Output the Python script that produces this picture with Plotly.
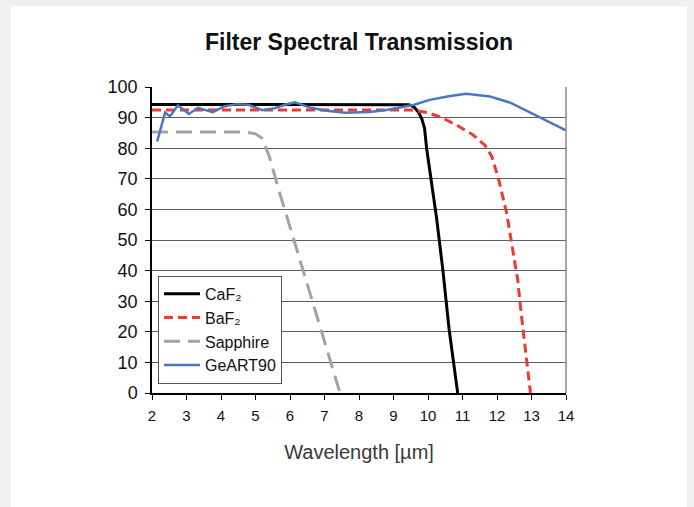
import plotly.graph_objects as go

# ---- data (wavelength in µm, transmission in %) ----
caf2_wl = [2.0, 9.0, 9.45, 9.6, 9.72, 9.82, 9.9, 9.96, 10.1, 10.25, 10.43, 10.61, 10.86]
caf2_t = [94.3, 94.3, 94.2, 93.4, 91.8, 89.6, 86.5, 80.0, 69.0, 57.0, 40.3, 21.0, 0.0]

baf2_wl = [2.0, 9.5, 10.0, 10.4, 10.9, 11.3, 11.65, 11.85, 12.05, 12.28, 12.44, 12.6, 12.7, 12.81, 12.97]
baf2_t = [92.5, 92.5, 91.6, 90.0, 87.1, 84.4, 81.0, 77.3, 69.7, 58.8, 47.9, 37.0, 26.1, 15.2, 0.0]

sapphire_wl = [2.0, 4.7, 5.0, 5.2, 5.4, 5.67, 6.2, 7.45]
sapphire_t = [85.3, 85.3, 84.7, 83.2, 77.3, 66.5, 46.8, 0.0]

geart_wl = [2.15, 2.38, 2.52, 2.75, 3.07, 3.33, 3.76, 4.1, 4.45, 4.8, 5.19, 5.57, 5.85, 6.14, 6.6, 7.0,
            7.6, 8.3, 8.8, 9.3, 9.6, 10.05, 10.6, 11.1, 11.8, 12.4, 13.2, 14.0]
geart_t = [82.2, 91.7, 90.4, 94.0, 91.2, 93.2, 91.8, 93.7, 94.4, 94.2, 92.4, 93.1, 94.2, 95.0, 93.2, 92.3,
           91.6, 91.8, 92.5, 93.7, 94.2, 95.8, 97.0, 97.8, 96.9, 94.8, 90.4, 85.8]

series_names = ["CaF₂", "BaF₂", "Sapphire", "GeART90"]

x_ticks = list(range(2, 15))
y_ticks = list(range(0, 101, 10))

FONT = "Liberation Sans, Arial, DejaVu Sans, sans-serif"

fig = go.Figure()
fig.add_trace(go.Scatter(x=caf2_wl, y=caf2_t, mode="lines", name=series_names[0],
                         line=dict(color="#000000", width=3)))
fig.add_trace(go.Scatter(x=baf2_wl, y=baf2_t, mode="lines", name=series_names[1],
                         line=dict(color="#ee3a30", width=3, dash="9px,5px")))
fig.add_trace(go.Scatter(x=sapphire_wl, y=sapphire_t, mode="lines", name=series_names[2],
                         line=dict(color="#a3a3a3", width=3, dash="16px,8px")))
fig.add_trace(go.Scatter(x=geart_wl, y=geart_t, mode="lines", name=series_names[3],
                         line=dict(color="#4a77c2", width=2.5)))

# white card on grey page
fig.add_shape(type="rect", xref="paper", yref="paper",
              x0=(11 - 152) / 414, x1=(687 - 152) / 414,
              y0=-0.5, y1=(393 - 6) / 306,
              fillcolor="white", line=dict(width=0), layer="below")
# right border of plot area
fig.add_shape(type="line", xref="paper", yref="paper", x0=1, x1=1, y0=0, y1=1,
              line=dict(color="#8a8a8a", width=1.5))

fig.update_layout(
    width=694, height=507,
    margin=dict(l=152, r=128, t=87, b=114),
    paper_bgcolor="#f0f0f0",
    plot_bgcolor="rgba(0,0,0,0)",
    font=dict(family=FONT, color="#111"),
    title=dict(text="<b>Filter Spectral Transmission</b>", x=(152 + 566) / 2 / 694, xanchor="center",
               y=1 - 42 / 507, yanchor="middle", yref="container",
               font=dict(size=23, color="#111", family=FONT)),
    showlegend=True,
    legend=dict(x=0.0145, y=0.383, xanchor="left", yanchor="top",
                bgcolor="white", bordercolor="#555", borderwidth=1,
                font=dict(size=16, color="#111", family=FONT),
                tracegroupgap=0, itemwidth=36),
    xaxis=dict(range=[2, 14], tickvals=x_ticks, showgrid=False, zeroline=False,
               showline=True, linecolor="#000", linewidth=1.5,
               ticks="outside", ticklen=5, tickcolor="#000", tickwidth=1,
               tickfont=dict(size=15, color="#111"), ticklabelstandoff=3,
               title=dict(text="Wavelength [µm]", font=dict(size=20, color="#3a3a3a"), standoff=22)),
    yaxis=dict(range=[0, 100], tickvals=y_ticks, showgrid=True, gridcolor="#5e5e5e", gridwidth=1,
               zeroline=False, showline=True, linecolor="#000", linewidth=1.5,
               ticks="outside", ticklen=5, tickcolor="#000", tickwidth=1,
               tickfont=dict(size=18, color="#111"), ticklabelstandoff=4),
)

fig.write_html(
    "out.html",
    config={"displayModeBar": False},
    post_script="document.body.style.margin='0';document.body.style.background='#f0f0f0';",
)
